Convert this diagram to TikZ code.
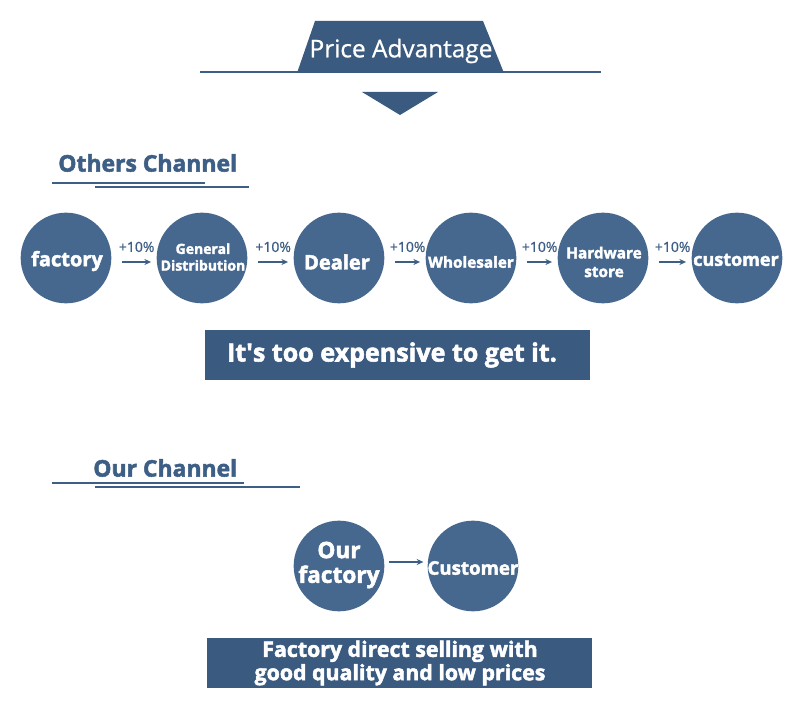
\documentclass[tikz,border=0pt]{standalone}
\usepackage{fontspec}
\setmainfont{Open Sans}[BoldFeatures={FakeBold=2.2}]
\newfontfamily\medfont{Open Sans}[FakeBold=0.8]
\usetikzlibrary{arrows.meta}
\definecolor{circ}{RGB}{70,104,143}
\definecolor{boxc}{RGB}{58,90,127}
\definecolor{linec}{RGB}{62,95,133}
\tikzset{
  px/.style={x=0.75pt,y=-0.75pt},
  chan/.style={circle,fill=circ,minimum size=68pt,inner sep=0pt},
  lbl/.style={text=white,align=center,inner sep=0pt},
  flow/.style={draw=linec,line width=0.9pt,-{Stealth[length=5pt,width=4.5pt]}},
  pct/.style={text=linec,font=\medfont\fontsize{10.5}{12}\selectfont,inner sep=0pt},
  banner/.style={fill=boxc,text=white,inner sep=0pt,align=center},
  rule/.style={draw=linec,line width=1.5pt},
  head/.style={text=linec,font=\bfseries\fontsize{17.2}{19}\selectfont,inner sep=0pt}
}
\begin{document}
\begin{tikzpicture}[px]
\useasboundingbox (0,0) rectangle (800,720);
% title
\draw[rule] (200,72.5) -- (601,72.5);
\fill[boxc] (297,73) -- (315,21) -- (483,21) -- (504,73) -- cycle;
\node[text=white,font=\medfont\fontsize{18.3}{20}\selectfont,inner sep=0pt] (title) at (401,51) {Price Advantage};
\fill[boxc] (362,92) -- (438,92) -- (400,115) -- cycle;
% others channel
\node[head,anchor=west] (oth) at (58,163) {Others Channel};
\draw[rule] (52,183) -- (205,183);
\draw[rule] (95,187) -- (249,187);
\foreach \n/\x in {c1/66,c2/202,c3/339,c4/471,c5/603,c6/737}{
  \node[chan] (\n) at (\x,258) {};
}
\node[lbl,font=\bfseries\fontsize{15}{17}\selectfont] (t1) at (67,261) {factory};
\node[lbl,font=\bfseries\fontsize{10.5}{12.5}\selectfont] (t2) at (203,257) {General\\Distribution};
\node[lbl,font=\bfseries\fontsize{15}{17}\selectfont] (t3) at (337,262) {Dealer};
\node[lbl,font=\bfseries\fontsize{11.5}{13}\selectfont] (t4) at (471,262) {Wholesaler};
\node[lbl,font=\bfseries\fontsize{11.5}{14}\selectfont] (t5) at (604,262) {Hardware\\store};
\node[lbl,font=\bfseries\fontsize{13.5}{16}\selectfont] (t6) at (736,260) {customer};
\foreach \a/\b in {c1/c2,c2/c3,c3/c4,c4/c5,c5/c6}{
  \draw[flow] ([xshift=8pt,yshift=-3pt]\a.east) -- ([xshift=-4pt,yshift=-3pt]\b.west)
    node[pct,midway,above=7pt] {+10\%};
}
\node[banner,minimum width=288.75pt,minimum height=37.5pt] (b1) at (397.5,355) {};
\node[lbl,font=\bfseries\fontsize{18.8}{20}\selectfont] (bt1) at (392,355) {It\textquotesingle s too expensive to get it.};
% our channel
\node[head,anchor=west] (our) at (93,468) {Our Channel};
\draw[rule] (52,483) -- (244,483);
\draw[rule] (95,487) -- (300,487);
\node[chan] (o1) at (339,566) {};
\node[chan] (o2) at (473,566) {};
\node[lbl,font=\bfseries\fontsize{17}{18.5}\selectfont] (ot1) at (339,565) {Our\\factory};
\node[lbl,font=\bfseries\fontsize{14}{16}\selectfont] (ot2) at (473,568) {Customer};
\draw[flow] ([xshift=3pt,yshift=3pt]o1.east) -- ([xshift=-3pt,yshift=3pt]o2.west);
\node[banner,minimum width=288.75pt,minimum height=37.5pt] (b2) at (399.5,663) {};
\node[lbl,font=\bfseries\fontsize{16}{17.5}\selectfont] (bt2) at (400,663) {Factory direct selling with\\good quality and low prices};
\end{tikzpicture}
\end{document}
